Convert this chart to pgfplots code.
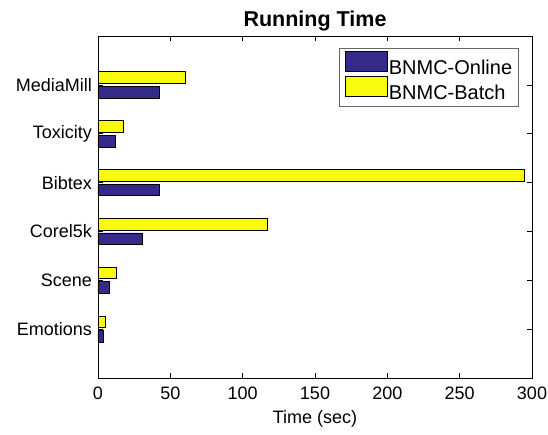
\documentclass[border=0pt]{standalone}
\usepackage{fontspec}
\setmainfont{Liberation Sans}
\usepackage{pgfplots}
\pgfplotsset{compat=1.18}
\definecolor{pblue}{RGB}{53,42,135}
\definecolor{pyellow}{RGB}{249,251,14}
\begin{document}%
\fontsize{18}{21}\selectfont%
\begin{tikzpicture}
\begin{axis}[
  scale only axis,
  width=434pt, height=342pt,
  xbar,
  xmin=0, xmax=300,
  ymin=0, ymax=7,
  xtick={0,50,...,300},
  ytick={1,2,3,4,5,6},
  yticklabels={Emotions,Scene,Corel5k,Bibtex,Toxicity,MediaMill},
  tick align=inside,
  major tick length=5pt,
  tick style={black, line width=0.5pt},
  axis line style={black, line width=0.6pt},
  /pgf/number format/assume math mode=true,
  tick label style={font=\fontsize{18}{21}\selectfont},
  xticklabel style={yshift=-2.5pt},
  label style={font=\fontsize{18}{21}\selectfont},
  xlabel={Time (sec)},
  xlabel style={yshift=1.5pt},
  title={\bfseries Running Time},
  title style={font=\fontsize{21.5}{25}\selectfont, yshift=-7pt},
  bar width=0.24,
  legend style={at={(0.97,0.965)}, anchor=north east, draw=black!60, line width=0.6pt,
    font=\fontsize{20}{24}\selectfont, cells={anchor=west}, inner xsep=5.5pt, inner ysep=3pt,
    row sep=-2pt, nodes={inner xsep=1pt, inner ysep=1pt}},
  legend image code/.code={\draw[#1, draw=black, line width=0.6pt] (0pt,-3pt) rectangle (42pt,17pt);},
]
\addplot[fill=pblue, draw=black, line width=0.7pt, bar shift=-0.15] coordinates {
  (3.5,1) (8.1,2) (30.4,3) (42.2,4) (12.2,5) (42.2,6)};
\addplot[fill=pyellow, draw=black, line width=0.7pt, bar shift=0.15] coordinates {
  (5.1,1) (12.9,2) (117.1,3) (294.9,4) (17.3,5) (60.4,6)};
\legend{BNMC-Online,BNMC-Batch}
\end{axis}
\pgfresetboundingbox
\path (current axis.south west) ++(-98pt,-57pt) rectangle ++(548pt,435pt);
\end{tikzpicture}%
\end{document}
